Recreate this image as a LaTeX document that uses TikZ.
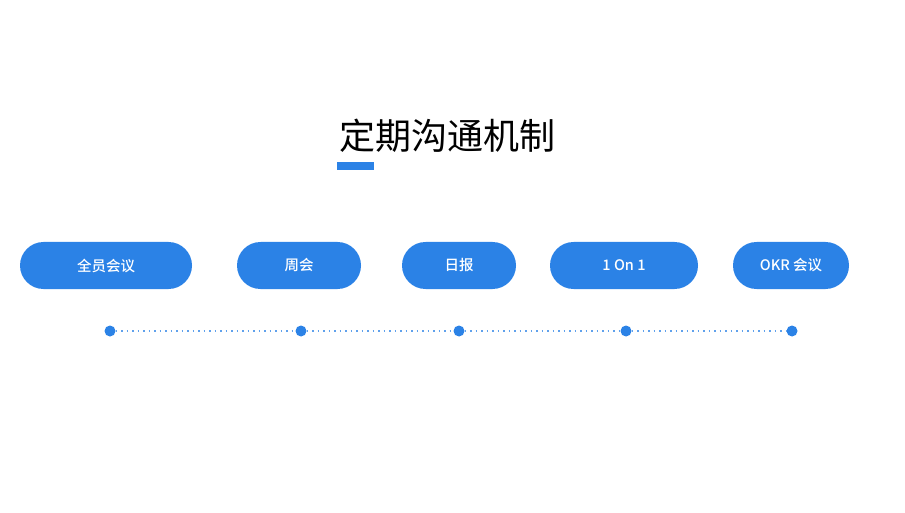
\documentclass[tikz,border=0pt]{standalone}
\usepackage{fontspec}
\newfontfamily\cjk{Noto Sans CJK SC}
\newfontfamily\cjkm{Noto Sans CJK SC Medium}
\definecolor{pblue}{RGB}{43,130,230}
\begin{document}
\begin{tikzpicture}[x=1pt,y=-1pt,
  pill/.style={fill=pblue, rounded corners=23.5pt, minimum height=47pt, inner sep=0pt, text=white, font=\cjkm\fontsize{14.5}{16}\selectfont},
  dotnode/.style={circle, fill=pblue, minimum size=11pt, inner sep=0pt},
  link/.style={pblue!75, line width=1.3pt, dash pattern=on 1.3pt off 4.2pt}]
\useasboundingbox (0,0) rectangle (905,513);
\node[font=\cjk\fontsize{36}{40}\selectfont, anchor=center] (title) at (447.5,135.5) {定期沟通机制};
\fill[pblue] (337,162) rectangle (374,170);
\node[pill, minimum width=172pt] (p1) at (106,265.5) {全员会议};
\node[pill, minimum width=124pt] (p2) at (299,265.5) {周会};
\node[pill, minimum width=114pt] (p3) at (459,265.5) {日报};
\node[pill, minimum width=148pt] (p4) at (624,265.5) {1 On 1};
\node[pill, minimum width=116pt] (p5) at (791,265.5) {OKR 会议};
\node[dotnode] (d1) at (110,331) {};
\node[dotnode] (d2) at (301,331) {};
\node[dotnode] (d3) at (459,331) {};
\node[dotnode] (d4) at (626,331) {};
\node[dotnode] (d5) at (792,331) {};
\draw[link] (d1) -- (d2);
\draw[link] (d2) -- (d3);
\draw[link] (d3) -- (d4);
\draw[link] (d4) -- (d5);
\end{tikzpicture}
\end{document}
